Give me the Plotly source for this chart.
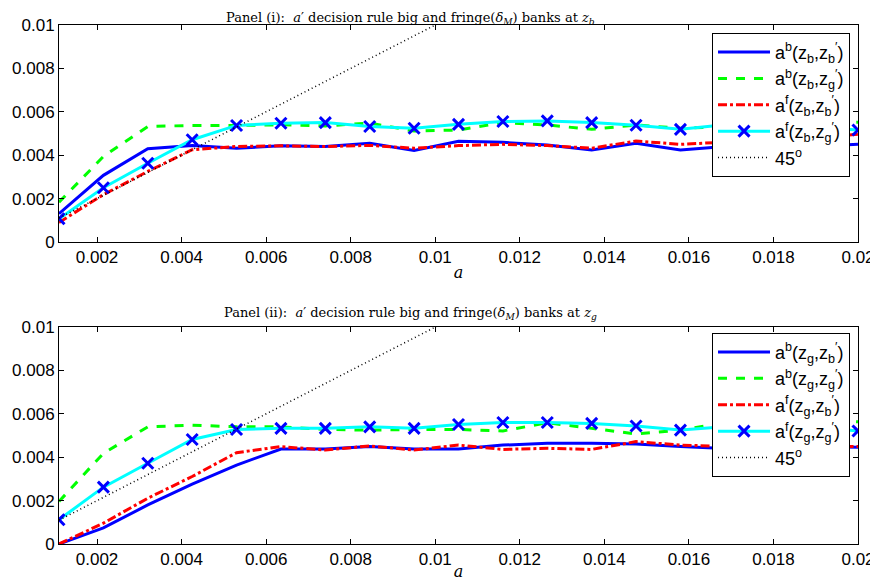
import plotly.graph_objects as go
from plotly.subplots import make_subplots

# grid of current assets a
a_grid = [0.0011 + i * 0.00105 for i in range(19)]

# panel (i): z_b
ab_bb = [0.0013, 0.00307, 0.0043, 0.00445, 0.00432, 0.00443, 0.0044, 0.00455, 0.00422, 0.00464,
         0.00459, 0.00447, 0.00424, 0.00455, 0.00424, 0.0044, 0.0045, 0.0044, 0.0045]
ab_bg = [0.00183, 0.00394, 0.00532, 0.00537, 0.00537, 0.0054, 0.00535, 0.00548, 0.00511, 0.00516,
         0.0055, 0.00539, 0.00519, 0.00539, 0.00524, 0.0053, 0.0054, 0.0055, 0.00552]
af_bb = [0.0009, 0.00218, 0.00325, 0.00425, 0.0044, 0.00443, 0.0044, 0.00445, 0.00432, 0.00444,
         0.0045, 0.00444, 0.00432, 0.00465, 0.0045, 0.0046, 0.0047, 0.0048, 0.00496]
af_bg = [0.00107, 0.0025, 0.00363, 0.00471, 0.00537, 0.00547, 0.0055, 0.00532, 0.00524, 0.00542,
         0.00555, 0.00558, 0.0055, 0.00538, 0.00519, 0.0054, 0.0055, 0.0053, 0.00516]

# panel (ii): z_g
ab_gb = [0.0, 0.00074, 0.0018, 0.00276, 0.00364, 0.00438, 0.00438, 0.00449, 0.00438, 0.00438,
         0.00456, 0.00464, 0.00464, 0.00461, 0.00449, 0.0044, 0.0044, 0.0045, 0.00446]
ab_gg = [0.00196, 0.00418, 0.0054, 0.00548, 0.0054, 0.0054, 0.00528, 0.00525, 0.00528, 0.00528,
         0.00521, 0.00559, 0.00533, 0.00507, 0.00525, 0.0056, 0.0056, 0.0057, 0.00563]
af_gb = [0.0, 0.00096, 0.00211, 0.00311, 0.00421, 0.00449, 0.00433, 0.00452, 0.00433, 0.00456,
         0.00436, 0.00441, 0.00436, 0.00472, 0.00456, 0.0045, 0.0045, 0.0045, 0.0045]
af_gg = [0.00112, 0.00262, 0.00372, 0.00482, 0.00528, 0.00533, 0.00533, 0.0054, 0.00533, 0.00551,
         0.0056, 0.0056, 0.00556, 0.00544, 0.00525, 0.0054, 0.0055, 0.0054, 0.00521]

x_ticks = [0.002, 0.004, 0.006, 0.008, 0.01, 0.012, 0.014, 0.016, 0.018, 0.02]
x_labels = ["0.002", "0.004", "0.006", "0.008", "0.01", "0.012", "0.014", "0.016", "0.018", "0.02"]
y_ticks = [0, 0.002, 0.004, 0.006, 0.008, 0.01]
y_labels = ["0", "0.002", "0.004", "0.006", "0.008", "0.01"]

PRIME = "<sup>′</sup>"

fig = make_subplots(rows=2, cols=1)


def add_panel(row, z, s_b, s_g, f_b, f_g, legend):
    zs = "z<sub>%s</sub>" % z
    fig.add_trace(go.Scatter(x=a_grid, y=s_b, mode="lines", legend=legend,
                             name="a<sup>b</sup>(%s,z<sub>b</sub>%s)" % (zs, PRIME),
                             line=dict(color="#0000ff", width=3)), row=row, col=1)
    fig.add_trace(go.Scatter(x=a_grid, y=s_g, mode="lines", legend=legend,
                             name="a<sup>b</sup>(%s,z<sub>g</sub>%s)" % (zs, PRIME),
                             line=dict(color="#00ff00", width=3, dash="dash")), row=row, col=1)
    fig.add_trace(go.Scatter(x=a_grid, y=f_b, mode="lines", legend=legend,
                             name="a<sup>f</sup>(%s,z<sub>b</sub>%s)" % (zs, PRIME),
                             line=dict(color="#ff0000", width=3, dash="dashdot")), row=row, col=1)
    fig.add_trace(go.Scatter(x=a_grid, y=f_g, mode="lines+markers", legend=legend,
                             name="a<sup>f</sup>(%s,z<sub>g</sub>%s)" % (zs, PRIME),
                             line=dict(color="#00ffff", width=3),
                             marker=dict(symbol="x-thin", size=11,
                                         line=dict(color="#0000ff", width=3))), row=row, col=1)
    fig.add_trace(go.Scatter(x=a_grid, y=a_grid, mode="lines", legend=legend,
                             name="45<sup>o</sup>",
                             line=dict(color="black", width=1.5, dash="1px,3px")), row=row, col=1)


add_panel(1, "b", ab_bb, ab_bg, af_bb, af_bg, "legend")
add_panel(2, "g", ab_gb, ab_gg, af_gb, af_gg, "legend2")

axis_style = dict(showgrid=False, zeroline=False, showline=True, linecolor="black",
                  linewidth=1, mirror="ticks", ticks="inside", ticklen=5,
                  tickcolor="black", automargin=False,
                  tickfont=dict(family="Liberation Sans", size=17, color="black"))

for r in (1, 2):
    fig.update_xaxes(range=[0.0011, 0.02], tickvals=x_ticks, ticktext=x_labels,
                     title=dict(text="<i>a</i>", standoff=0,
                                font=dict(family="DejaVu Serif", size=16, color="black")),
                     row=r, col=1, **axis_style)
    fig.update_yaxes(range=[0, 0.01], tickvals=y_ticks, ticktext=y_labels,
                     row=r, col=1, **axis_style)

fig.update_layout(yaxis=dict(domain=[0.582, 1.0]), yaxis2=dict(domain=[0.0, 0.418]))

legend_style = dict(x=0.99, xanchor="right", yanchor="top", bgcolor="white",
                    bordercolor="black", borderwidth=1, itemwidth=52,
                    font=dict(family="Liberation Sans", size=18, color="black"))

title_font = dict(family="DejaVu Serif", size=13, color="black")

# the page adds an 8px body margin, so the figure is drawn slightly smaller
fig.update_layout(
    width=870, height=573,
    margin=dict(l=51, r=20, t=17, b=37),
    paper_bgcolor="white", plot_bgcolor="white",
    legend=dict(y=0.985, **legend_style),
    legend2=dict(y=0.407, **legend_style),
    annotations=[
        dict(text="Panel (i):  <i>a</i>′ decision rule big and fringe(<i>δ<sub>M</sub></i>) banks at <i>z<sub>b</sub></i>",
             x=0.44, y=1.0328, yanchor="top", xref="paper", yref="paper",
             showarrow=False, font=title_font),
        dict(text="Panel (ii):  <i>a</i>′ decision rule big and fringe(<i>δ<sub>M</sub></i>) banks at <i>z<sub>g</sub></i>",
             x=0.44, y=0.418, yanchor="bottom", yshift=3, xref="paper", yref="paper",
             showarrow=False, font=title_font),
    ],
)

fig.write_html("out.html")
